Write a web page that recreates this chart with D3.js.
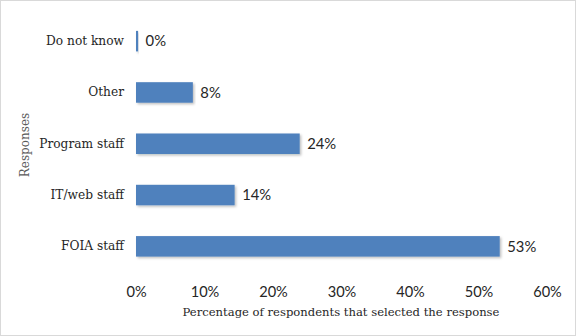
<!DOCTYPE html>
<html><head><meta charset="utf-8">
<script src="https://cdn.jsdelivr.net/npm/d3@7"></script>
<style>body{margin:0;background:#fff}svg{display:block}text{fill:#262626}</style>
</head><body>
<script>
const categories = ["Do not know","Other","Program staff","IT/web staff","FOIA staff"];
const values = [0.3, 8.3, 23.9, 14.4, 53.1];
const valueLabels = ["0%","8%","24%","14%","53%"];
const ticks = [0,10,20,30,40,50,60];

const SERIF="DejaVu Serif", SANS="Lato";
const W=576,H=336;
const svg=d3.select("body").append("svg").attr("width",W).attr("height",H);
svg.append("rect").attr("x",0.5).attr("y",0.5).attr("width",W-1).attr("height",H-1).attr("fill","#fff").attr("stroke","#d9d9d9");
const x=d3.scaleLinear().domain([0,60]).range([136,547]);
const y=d3.scaleBand().domain(categories).range([15.5,272]).paddingInner(0.6).paddingOuter(0.3);
const defs=svg.append("defs");
const f=defs.append("filter").attr("id","sh").attr("x","-5%").attr("y","-20%").attr("width","110%").attr("height","160%");
f.append("feDropShadow").attr("dx",1.5).attr("dy",1.5).attr("stdDeviation",1.2).attr("flood-color","#000").attr("flood-opacity",0.25);
svg.selectAll("rect.bar").data(categories).join("rect").attr("class","bar")
 .attr("x",x(0)).attr("y",d=>y(d)).attr("height",y.bandwidth())
 .attr("width",(d,i)=>x(values[i])-x(0)).attr("fill","#4f81bd").attr("filter","url(#sh)");
svg.selectAll("text.val").data(categories).join("text").attr("class","val")
 .attr("x",(d,i)=>x(values[i])+7.5).attr("y",d=>y(d)+y.bandwidth()/2).attr("dy","0.36em")
 .style("font-family",SANS).attr("font-size",14.8).text((d,i)=>valueLabels[i]);
const ya=svg.append("g").attr("transform",`translate(${x(0)},0)`).call(d3.axisLeft(y).tickSize(0).tickPadding(12));
ya.select(".domain").remove();
ya.selectAll("text").attr("font-size",12.2).style("font-family",SERIF).attr("fill","#262626");
const xa=svg.append("g").attr("transform","translate(0,284)").call(d3.axisBottom(x).tickValues(ticks).tickSize(0).tickFormat(d=>d+"%"));
xa.select(".domain").remove();
xa.selectAll("text").attr("font-size",14.6).style("font-family",SANS).attr("fill","#262626");
svg.append("text").attr("x",341).attr("y",316).attr("text-anchor","middle").style("font-family",SERIF).attr("font-size",11.6).text("Percentage of respondents that selected the response");
svg.append("text").attr("transform","translate(29,145) rotate(-90)").attr("text-anchor","middle").style("font-family",SERIF).attr("font-size",12).style("fill","#595959").text("Responses");
</script>
</body></html>
